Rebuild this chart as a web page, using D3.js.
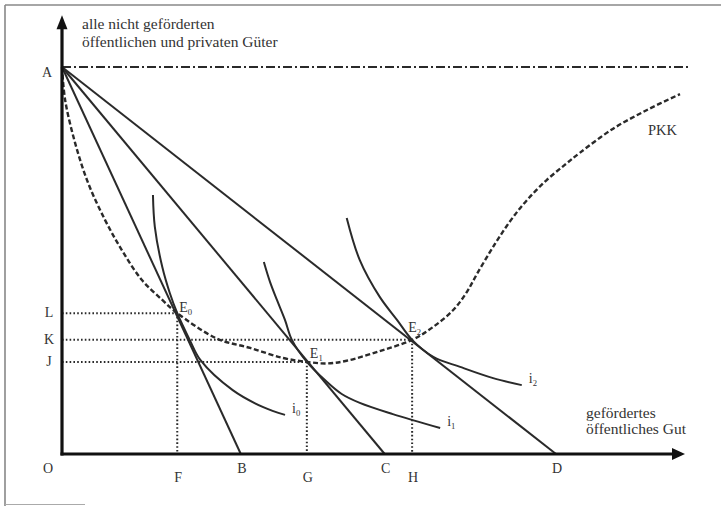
<!DOCTYPE html>
<html><head><meta charset="utf-8">
<script src="https://cdn.jsdelivr.net/npm/d3@7"></script>
<style>
html,body{margin:0;padding:0;background:#fff;}
</style></head>
<body>
<svg id="c" width="721" height="506" font-family="'Liberation Serif','Times New Roman','DejaVu Serif',serif"></svg>
<script>
// ---- data (in abstract units: x = gefördertes öffentliches Gut, y = übrige Güter) ----
const axisMax = {x: 100, y: 113.4};
const pointA = [0, 100];
const budgetEnds = [ {name: "B", x: 28.7}, {name: "C", x: 51.8}, {name: "D", x: 79.3} ];
const equilibria = [
  {name: "E", sub: "0", x: 18.5, y: 36.4, xl: "F", yl: "L"},
  {name: "E", sub: "1", x: 39.3, y: 23.8, xl: "G", yl: "J"},
  {name: "E", sub: "2", x: 56.2, y: 29.5, xl: "H", yl: "K"}
];
const pkkCurve = [[0,100],[0.5,91.5],[2.1,80.4],[4.2,70.0],[6.9,60.5],[9.6,52.7],[12.8,45.0],[16.1,39.8],
  [18.5,36.4],[24.9,29.8],[30.2,27.4],[35.5,24.8],[39.3,23.8],[42.5,23.4],[45.7,24.1],[51.0,26.6],
  [56.2,29.5],[59.55,32.8],[62.8,37.2],[65.0,41.9],[66.6,46.5],[68.7,52.2],[70.3,56.3],[72.4,61.2],
  [74.8,65.9],[77.8,70.8],[80.7,74.7],[83.1,77.8],[88.4,84.0],[93.9,88.9],[99.2,93.0]];
const indiff0 = [[14.6,66.9],[14.9,58.7],[16.1,48.3],[17.3,41.6],[18.5,36.4],[20.5,29.5],[22.2,24.3],[27.4,16.5],[32.3,12.1],[35.8,10.1]];
const indiff1 = [[32.4,49.6],[33.4,44.4],[34.5,39.8],[35.8,34.6],[36.9,29.5],[39.3,23.8],[42.2,19.1],[44.9,15.5],[47.8,13.2],[53.1,10.3],[60.7,6.7]];
const indiff2 = [[45.7,61.0],[47.8,50.1],[51.0,40.6],[53.8,34.6],[56.2,29.5],[59.6,25.1],[63.9,22.5],[69.2,19.6],[73.8,17.8]];
const curveLabels = ["i0","i1","i2"];
const dashDotEnd = 100.8;
const yTitle = ["alle nicht geförderten", "öffentlichen und privaten Güter"];
const xTitle = ["gefördertes", "öffentliches Gut"];
const pkkLabel = "PKK";

// ---- drawing ----
const svg = d3.select("#c");
const x = d3.scaleLinear().domain([0, axisMax.x]).range([62, 685]);
const y = d3.scaleLinear().domain([0, 100]).range([454, 67]);
const ink = "#2a2a2a";
const txt = "#333";

// frame
svg.append("line").attr("x1",5).attr("y1",5).attr("x2",721).attr("y2",5).attr("stroke","#888").attr("stroke-width",1.6);
svg.append("line").attr("x1",5).attr("y1",5).attr("x2",5).attr("y2",506).attr("stroke","#888").attr("stroke-width",1.6);
svg.append("line").attr("x1",5).attr("y1",504.5).attr("x2",85).attr("y2",504.5).attr("stroke","#aaa").attr("stroke-width",1.2);

// dash-dot line at A
svg.append("line").attr("x1",x(0)).attr("y1",y(pointA[1])).attr("x2",x(dashDotEnd)).attr("y2",y(pointA[1]))
  .attr("stroke",ink).attr("stroke-width",2).attr("stroke-dasharray","9,3,2,3");

// dotted guides
const dotted = svg.append("g").attr("stroke",ink).attr("stroke-width",2).attr("stroke-dasharray","1.6,2.2");
equilibria.forEach(e => {
  dotted.append("line").attr("x1",x(0)).attr("y1",y(e.y)).attr("x2",x(e.x)).attr("y2",y(e.y));
  dotted.append("line").attr("x1",x(e.x)).attr("y1",y(e.y)).attr("x2",x(e.x)).attr("y2",y(0));
});

// budget lines
budgetEnds.forEach(b => {
  svg.append("line").attr("x1",x(pointA[0])).attr("y1",y(pointA[1])).attr("x2",x(b.x)).attr("y2",y(0))
    .attr("stroke",ink).attr("stroke-width",2);
});

// PKK curve
const line = d3.line().x(d=>x(d[0])).y(d=>y(d[1])).curve(d3.curveCatmullRom.alpha(0.5));
svg.append("path").attr("d",line(pkkCurve)).attr("fill","none").attr("stroke",ink)
  .attr("stroke-width",2.4).attr("stroke-dasharray","5,2.6");

// indifference curves
[indiff0, indiff1, indiff2].forEach(c => {
  svg.append("path").attr("d",line(c)).attr("fill","none").attr("stroke",ink).attr("stroke-width",2);
});

// axes
svg.append("line").attr("x1",x(0)).attr("y1",y(0)+1.5).attr("x2",x(0)).attr("y2",y(axisMax.y)+10)
  .attr("stroke","#111").attr("stroke-width",3.2);
svg.append("line").attr("x1",x(0)-1.5).attr("y1",y(0)).attr("x2",x(axisMax.x)-10).attr("y2",y(0))
  .attr("stroke","#111").attr("stroke-width",3.2);
const tipY = [x(0), y(axisMax.y)];
svg.append("path").attr("d",`M${tipY[0]},${tipY[1]} L${tipY[0]-5.5},${tipY[1]+14} L${tipY[0]+5.5},${tipY[1]+14} Z`).attr("fill","#111");
const tipX = [x(axisMax.x), y(0)];
svg.append("path").attr("d",`M${tipX[0]},${tipX[1]} L${tipX[0]-13},${tipX[1]-6} L${tipX[0]-13},${tipX[1]+6} Z`).attr("fill","#111");

// text helpers
function label(s, px, py, size, anchor){
  return svg.append("text").attr("x",px).attr("y",py).attr("font-size",size).attr("fill",txt)
    .attr("text-anchor",anchor||"start").text(s);
}
function subLabel(main, sub, px, py, size){
  const t = svg.append("text").attr("x",px).attr("y",py).attr("font-size",size).attr("fill",txt);
  t.append("tspan").text(main);
  t.append("tspan").attr("font-size",size*0.62).attr("dy",3).text(sub);
  return t;
}

// axis titles
yTitle.forEach((s,i)=>label(s, 82, 29 + i*18, 15.5));
xTitle.forEach((s,i)=>label(s, 586, 418 + i*16, 15.5));

// letter labels
label("A", 47, y(pointA[1])+10, 14, "middle");
label("O", 48, 473, 14, "middle");
budgetEnds.forEach(b => label(b.name, x(b.x)+1, 473, 14, "middle"));
equilibria.forEach(e => {
  label(e.xl, x(e.x)+1, 482, 14, "middle");
  label(e.yl, 49, y(e.y)+4, 14, "middle");
});
// equilibrium labels
const eOff = [[2,-1],[3,-4],[-4,-8]];
equilibria.forEach((e,i) => subLabel(e.name, e.sub, x(e.x)+eOff[i][0], y(e.y)+eOff[i][1], 14));

// indifference curve labels
[indiff0, indiff1, indiff2].forEach((c,i) => {
  const last = c[c.length-1];
  subLabel(curveLabels[i][0], curveLabels[i][1], x(last[0])+7, y(last[1])-2, 14);
});

label(pkkLabel, 648, 135, 14.5);
</script>
</body></html>
